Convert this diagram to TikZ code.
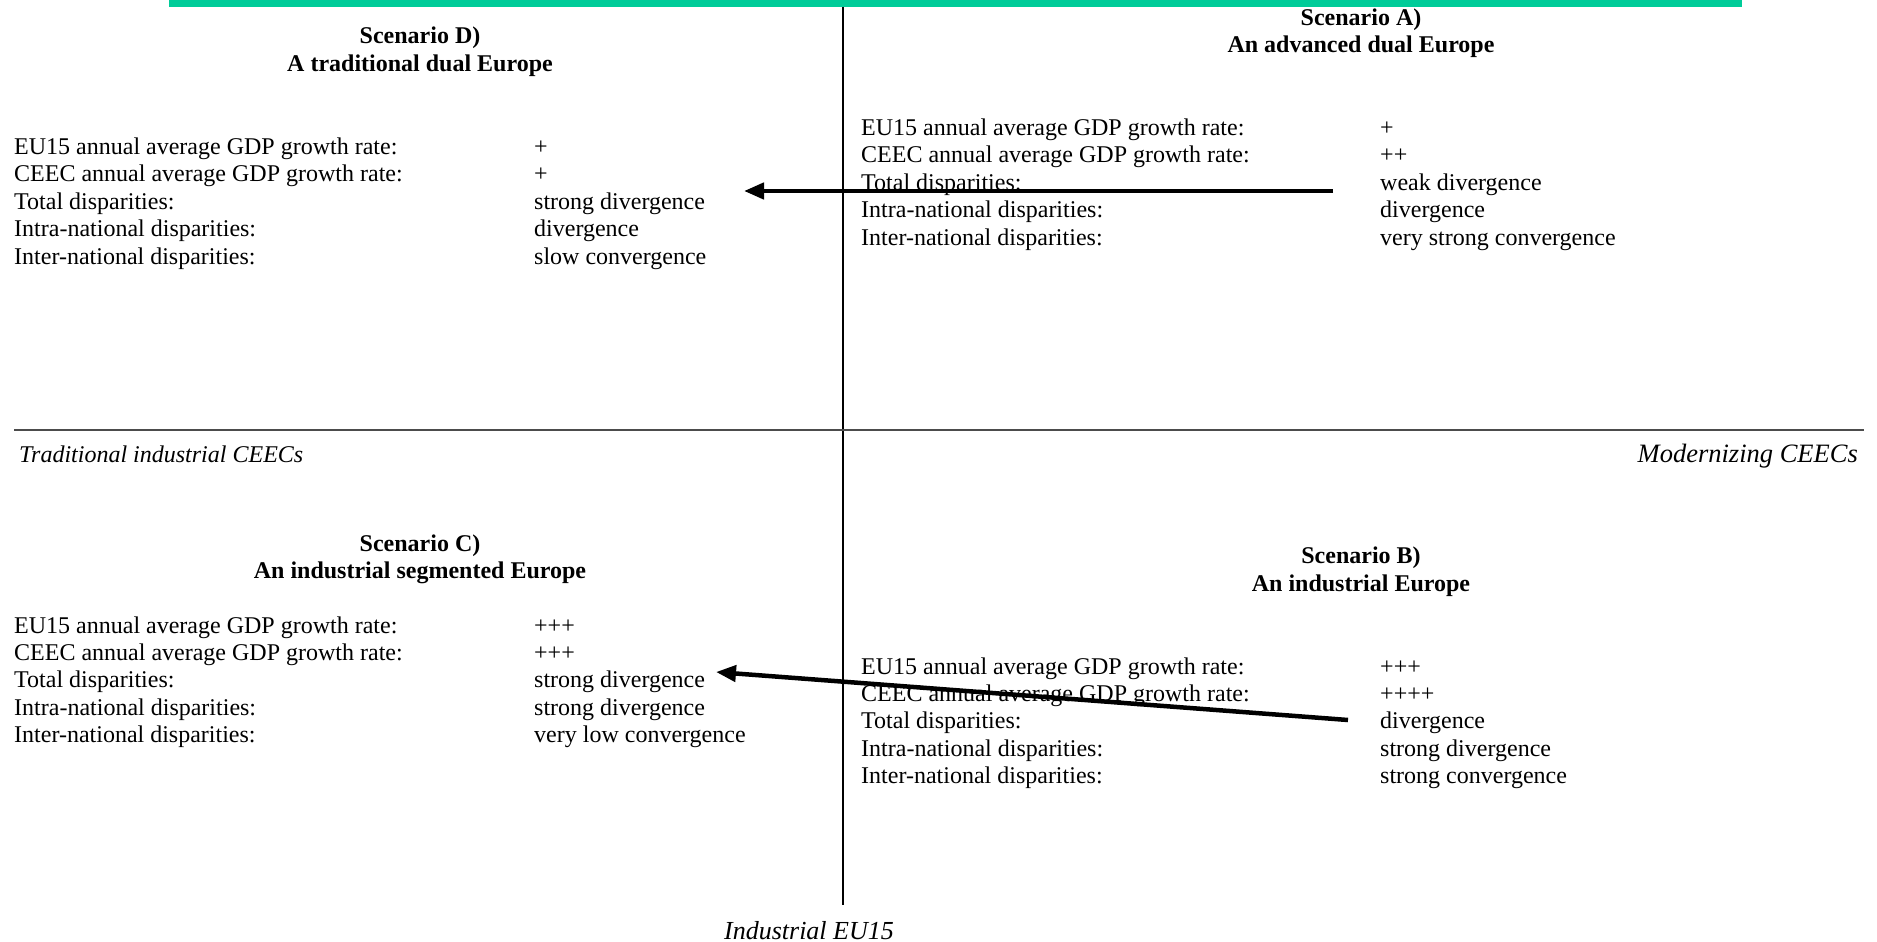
\documentclass[tikz,border=0pt]{standalone}
\usepackage{fontspec}
\setmainfont{Liberation Serif}
\usetikzlibrary{arrows.meta}
\definecolor{topgreen}{RGB}{0,204,153}
\begin{document}
\begin{tikzpicture}[x=1pt,y=-1pt,
  txt/.style={inner sep=0pt,anchor=base west,font=\fontsize{24}{27.4}\selectfont},
  ttl/.style={inner sep=0pt,anchor=base,font=\fontsize{24}{27.4}\selectfont\bfseries},
  axlab/.style={inner sep=0pt,font=\fontsize{24}{27.4}\selectfont\itshape},
  axis/.style={line width=1.5pt,black},
  bigarrow/.style={line width=4.5pt,-{Triangle[length=20pt,width=16pt]}}]
\useasboundingbox (0,0) rectangle (1877,942);
% top bar
\fill[topgreen] (169,0) rectangle (1742,7);
% axes
\coordinate (vtop) at (843,7);
\coordinate (vbot) at (843,905);
\coordinate (hl) at (14,430);
\coordinate (hr) at (1864,430);
\draw[axis] (vtop) -- (vbot);
\draw[axis,line width=1.8pt,gray!60!black] (hl) -- (hr);
% axis labels
\node[axlab,anchor=base west] (tradceec) at (19,462) {Traditional industrial CEECs};
\node[axlab,anchor=base east,font=\fontsize{26.5}{28}\selectfont\itshape] (modceec) at (1858,462) {Modernizing CEECs};
\node[axlab,anchor=base,font=\fontsize{26}{28}\selectfont\itshape] (indeu) at (809,939) {Industrial EU15};
% titles
\node[ttl] (tD1) at (420,44) {Scenario D)};
\node[ttl] (tD2) at (420,71) {A traditional dual Europe};
\node[ttl] (tA1) at (1361,25.5) {Scenario A)};
\node[ttl] (tA2) at (1361,53) {An advanced dual Europe};
\node[ttl] (tC1) at (420,551) {Scenario C)};
\node[ttl] (tC2) at (420,578) {An industrial segmented Europe};
\node[ttl] (tB1) at (1361,563) {Scenario B)};
\node[ttl] (tB2) at (1361,591) {An industrial Europe};
% row labels
\foreach \q/\x/\y in {D/14/154.5, A/861/135.5, C/14/633, B/861/674}{
  \foreach \t [count=\i from 0] in {EU15 annual average GDP growth rate:,
      CEEC annual average GDP growth rate:, Total disparities:,
      Intra-national disparities:, Inter-national disparities:}
    \node[txt] (lab\q\i) at (\x,\y+27.4*\i) {\t};
}
% values
\foreach \t [count=\i from 0] in {+,+,strong divergence,divergence,slow convergence}
  \node[txt] (valD\i) at (534,154.5+27.4*\i) {\t};
\foreach \t [count=\i from 0] in {+,++,weak divergence,divergence,very strong convergence}
  \node[txt] (valA\i) at (1380,135.5+27.4*\i) {\t};
\foreach \t [count=\i from 0] in {+++,+++,strong divergence,strong divergence,very low convergence}
  \node[txt] (valC\i) at (534,633+27.4*\i) {\t};
\foreach \t [count=\i from 0] in {+++,++++,divergence,strong divergence,strong convergence}
  \node[txt] (valB\i) at (1380,674+27.4*\i) {\t};
% arrows
\coordinate (a1s) at (1333,191);
\coordinate (a1e) at (744,191);
\coordinate (a2s) at (1348,720);
\coordinate (a2e) at (716,672);
\draw[bigarrow] (a1s) -- (a1e);
\draw[bigarrow] (a2s) -- (a2e);
\end{tikzpicture}
\end{document}
